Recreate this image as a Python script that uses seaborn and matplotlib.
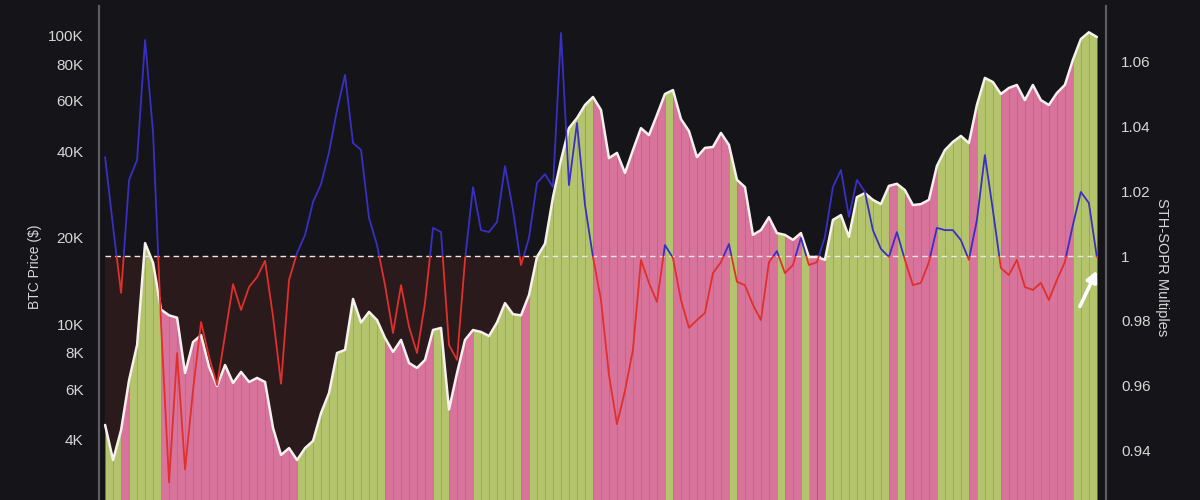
import numpy as np
import pandas as pd
import matplotlib
matplotlib.use("Agg")
import matplotlib.pyplot as plt
import seaborn as sns
from matplotlib import transforms
from matplotlib.patches import Rectangle

# BTC price (thousand $) and short-term holder SOPR
dates = pd.date_range("2017-10-01", periods=125, freq="21D")
btc_price_k = [
    4.51, 3.41, 4.33, 6.45, 8.53, 19.2, 16.4, 11.3, 10.8, 10.6,
    6.82, 8.73, 9.23, 7.16, 6.15, 7.27, 6.30, 6.88, 6.35, 6.56,
    6.35, 4.40, 3.55, 3.75, 3.41, 3.75, 3.97, 4.96, 5.82, 8.00,
    8.20, 12.3, 10.2, 11.1, 10.4, 9.02, 8.07, 8.88, 7.39, 7.10,
    7.57, 9.61, 9.77, 5.10, 6.82, 8.88, 9.61, 9.46, 9.16, 10.2,
    11.9, 10.9, 10.8, 12.7, 17.2, 19.1, 27.7, 37.2, 48.0, 52.0,
    57.7, 61.5, 55.5, 37.8, 39.4, 33.6, 40.3, 48.0, 45.4, 53.3,
    63.0, 65.0, 51.6, 46.9, 38.1, 41.0, 41.3, 46.2, 42.0, 31.8,
    30.0, 20.5, 21.3, 23.6, 20.8, 20.5, 19.7, 20.8, 17.2, 17.2,
    16.8, 23.1, 24.0, 20.2, 27.7, 28.6, 27.1, 26.2, 30.3, 30.8,
    29.3, 26.0, 26.2, 27.1, 35.5, 40.3, 43.0, 45.1, 42.6, 57.7,
    71.6, 69.3, 63.0, 66.1, 67.7, 60.0, 67.7, 60.0, 57.7, 63.5,
    67.7, 82.6, 97.6, 103.0, 99.2,
]
sth_sopr = [
    1.0306, 1.0090, 0.9886, 1.0235, 1.0297, 1.0668, 1.0380, 0.9787, 0.9300, 0.9700,
    0.9340, 0.9586, 0.9796, 0.9688, 0.9601, 0.9756, 0.9913, 0.9833, 0.9904, 0.9935,
    0.9985, 0.9812, 0.9605, 0.9926, 1.0009, 1.0065, 1.0167, 1.0222, 1.0321, 1.0451,
    1.0560, 1.0349, 1.0328, 1.0117, 1.0034, 0.9910, 0.9762, 0.9910, 0.9781, 0.9700,
    0.9855, 1.0087, 1.0074, 0.9725, 0.9679, 0.9988, 1.0213, 1.0080, 1.0074, 1.0105,
    1.0278, 1.0142, 0.9972, 1.0056, 1.0226, 1.0253, 1.0213, 1.0690, 1.0219, 1.0411,
    1.0158, 0.9997, 0.9864, 0.9632, 0.9480, 0.9583, 0.9710, 0.9988, 0.9917, 0.9858,
    1.0034, 0.9994, 0.9864, 0.9778, 0.9802, 0.9824, 0.9947, 0.9981, 1.0037, 0.9920,
    0.9910, 0.9849, 0.9802, 0.9981, 1.0015, 0.9947, 0.9972, 1.0056, 0.9972, 0.9981,
    1.0059, 1.0213, 1.0266, 1.0121, 1.0235, 1.0198, 1.0080, 1.0022, 0.9997, 1.0074,
    0.9988, 0.9910, 0.9917, 0.9981, 1.0087, 1.0080, 1.0080, 1.0049, 0.9988, 1.0111,
    1.0312, 1.0142, 0.9963, 0.9941, 0.9988, 0.9904, 0.9895, 0.9917, 0.9864, 0.9926,
    0.9981, 1.0096, 1.0198, 1.0164, 0.9997,
]

price_ticks = [4000, 6000, 8000, 10000, 20000, 40000, 60000, 80000, 100000]
price_tick_labels = ["4K", "6K", "8K", "10K", "20K", "40K", "60K", "80K", "100K"]
sopr_ticks = [0.94, 0.96, 0.98, 1.0, 1.02, 1.04, 1.06]
sopr_tick_labels = ["0.94", "0.96", "0.98", "1", "1.02", "1.04", "1.06"]

BG = "#141419"
GREEN = "#b4c46c"
PINK = "#d8739b"
BLUE = "#3a2fc4"
RED = "#e0302c"
SHADE = "#2a1a1c"
TXT = "#d6d6d6"
SPINE = "#5c5c62"

sns.set_style("dark")
plt.rcParams["font.family"] = ["Liberation Sans", "DejaVu Sans"]

price = np.array(btc_price_k) * 1000
sopr = np.array(sth_sopr)

fig = plt.figure(figsize=(12, 5), dpi=100, facecolor=BG)
rect = [99 / 1200, -28 / 500, 1007 / 1200, 522 / 500]
ax_bg = fig.add_axes(rect)                 # SOPR scale, shaded zone below 1
ax = fig.add_axes(rect, sharex=ax_bg)      # price bars + line
ax2 = fig.add_axes(rect, sharex=ax_bg)     # SOPR line on top

xlim = (dates[0] - pd.Timedelta(days=16), dates[-1] + pd.Timedelta(days=24))
price_lim = (1984, 127000)
sopr_lim = (0.9159, 1.0773)

ax_bg.set_facecolor(BG)
ax.set_facecolor("none")
ax2.set_facecolor("none")

# dark zone under SOPR = 1
ax_bg.fill_between(dates, sopr_lim[0], 1.0, color=SHADE, lw=0)
ax_bg.set_ylim(*sopr_lim)
ax_bg.set_xlim(*xlim)

# price area coloured by SOPR regime
ax.set_yscale("log")
ax.set_ylim(*price_lim)
ybot = price_lim[0]
for i in range(len(dates) - 1):
    c = GREEN if sopr[i] >= 1 else PINK
    ax.fill_between(dates[i:i + 2], price[i:i + 2], ybot, color=c, lw=0)
ax.vlines(dates, ybot, price, color="white", alpha=0.13, lw=0.6)
sns.lineplot(x=dates, y=price, ax=ax, color="#f6f1ee", lw=1.8)

# SOPR line, blue above 1 and red below
ax2.set_ylim(*sopr_lim)
ax2.hlines(1.0, dates[0], dates[-1], colors="#ece6e6", linestyles=(0, (4, 3)), lw=1, zorder=2)
blend = transforms.blended_transform_factory(ax2.transAxes, ax2.transData)
for color, y0, y1 in [(BLUE, 1.0, sopr_lim[1] + 0.1), (RED, sopr_lim[0] - 0.1, 1.0)]:
    sns.lineplot(x=dates, y=sopr, ax=ax2, color=color, lw=1.3, zorder=3)
    clip = Rectangle((0, y0), 1, y1 - y0, transform=blend)
    ax2.lines[-1].set_clip_path(clip)

ax2.annotate("", xy=(dates[-1], 0.9955), xytext=(-17, -36), textcoords="offset pixels",
             arrowprops=dict(arrowstyle="-|>", color="white", lw=2.6,
                             mutation_scale=16, shrinkA=0, shrinkB=0))

# axes cosmetics
for a in (ax_bg, ax, ax2):
    a.set_xlim(*xlim)
    a.set_xticks([])
    a.set_xlabel("")
    a.set_ylabel("")
    a.grid(False)
    for s in a.spines.values():
        s.set_visible(False)

ax_bg.set_yticks([])
ax.set_yticks(price_ticks)
ax.set_yticklabels(price_tick_labels)
ax.minorticks_off()
ax.tick_params(axis="y", left=False, labelleft=True, length=0, pad=11, labelsize=11, colors=TXT)
ax.spines["left"].set_visible(True)
ax.spines["left"].set_color(SPINE)
ax.spines["left"].set_linewidth(1.6)

ax2.yaxis.tick_right()
ax2.set_yticks(sopr_ticks)
ax2.set_yticklabels(sopr_tick_labels)
ax2.tick_params(axis="y", right=False, labelright=True, left=False, labelleft=False,
                length=0, pad=11, labelsize=11, colors=TXT)
ax2.spines["right"].set_visible(True)
ax2.spines["right"].set_color(SPINE)
ax2.spines["right"].set_linewidth(1.6)

fig.text(35 / 1200, 1 - 267 / 500, "BTC Price ($)", rotation=90, ha="center", va="center",
         color=TXT, fontsize=10)
fig.text(1162 / 1200, 1 - 267 / 500, "STH-SOPR Multiples", rotation=270, ha="center", va="center",
         color=TXT, fontsize=10.5)

fig.savefig("out.png", dpi=100, facecolor=BG)
